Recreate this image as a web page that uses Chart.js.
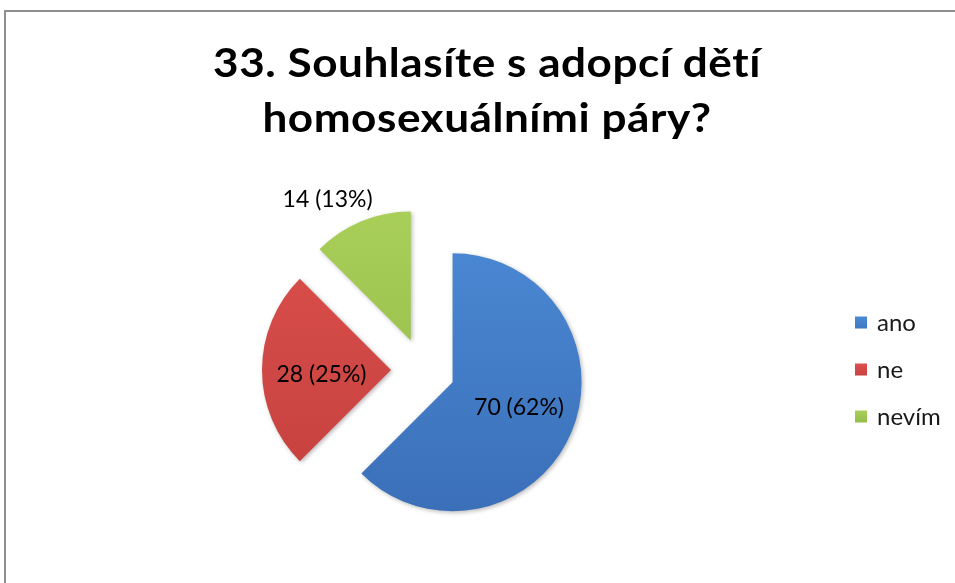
<!DOCTYPE html>
<html>
<head>
<meta charset="utf-8">
<script src="https://cdn.jsdelivr.net/npm/chart.js@4"></script>
<style>
  html, body { margin: 0; padding: 0; background: #ffffff; overflow: hidden; }
  #c { display: block; }
</style>
</head>
<body>
<canvas id="c" width="955" height="583"></canvas>
<script>
// Survey question 33 – answer counts and their shares
const categories = ['ano', 'ne', 'nevím'];
const answerCounts = [70, 28, 14];
const answerShares = ['62%', '25%', '13%'];
const titleLines = ['33. Souhlasíte s adopcí dětí', 'homosexuálními páry?'];

// Slice fills (top → bottom shading) and legend swatches
const fillTop = ['#4C8AD6', '#DC504D', '#A9CF59'];
const fillBottom = ['#3A6EB7', '#C23F3C', '#8CB543'];
const swatchColors = ['#3F78C2', '#C9423F', '#95BD4C'];

const PIE_RADIUS = 129;
const EXPLODE = 32;
// where each value label sits: fraction of radius from the slice tip, and a small turn
const labelDistance = [0.55, 0.54, 1.27];
const labelTurnDeg = [-2, -4, -8];

const FONT = 'Lato, "Open Sans", sans-serif';

// push every slice out along its bisector
const explodePlugin = {
  id: 'explodeSlices',
  afterDatasetsUpdate(chart) {
    chart.getDatasetMeta(0).data.forEach(arc => {
      const mid = (arc.startAngle + arc.endAngle) / 2;
      arc.x += Math.cos(mid) * EXPLODE;
      arc.y += Math.sin(mid) * EXPLODE;
    });
  }
};

// soft drop shadow under the slices
const shadowPlugin = {
  id: 'sliceShadow',
  beforeDatasetsDraw(chart) {
    const ctx = chart.ctx;
    ctx.save();
    ctx.shadowColor = 'rgba(0,0,0,0.28)';
    ctx.shadowBlur = 4;
    ctx.shadowOffsetX = 1.5;
    ctx.shadowOffsetY = 1.5;
  },
  afterDatasetsDraw(chart) {
    chart.ctx.restore();
  }
};

// "count (share)" labels
const valueLabels = {
  id: 'valueLabels',
  afterDatasetsDraw(chart) {
    const ctx = chart.ctx;
    const values = chart.data.datasets[0].data;
    ctx.save();
    ctx.font = '23px ' + FONT;
    ctx.fillStyle = '#000000';
    ctx.textAlign = 'center';
    ctx.textBaseline = 'middle';
    chart.getDatasetMeta(0).data.forEach((arc, i) => {
      const ang = (arc.startAngle + arc.endAngle) / 2 + labelTurnDeg[i] * Math.PI / 180;
      const r = arc.outerRadius * labelDistance[i];
      ctx.fillText(values[i] + ' (' + answerShares[i] + ')',
        arc.x + Math.cos(ang) * r, arc.y + Math.sin(ang) * r);
    });
    ctx.restore();
  }
};

// frame, title and legend
const decorPlugin = {
  id: 'decor',
  beforeDraw(chart) {
    const ctx = chart.ctx;
    ctx.save();
    ctx.fillStyle = '#ffffff';
    ctx.fillRect(0, 0, chart.width, chart.height);
    ctx.strokeStyle = '#8f8f8f';
    ctx.lineWidth = 2;
    ctx.strokeRect(5, 11, chart.width + 40, chart.height + 40);
    ctx.restore();
  },
  afterDraw(chart) {
    const ctx = chart.ctx;
    ctx.save();
    ctx.fillStyle = '#000000';
    ctx.textAlign = 'center';
    ctx.textBaseline = 'alphabetic';
    ctx.font = 'bold 41px ' + FONT;
    if ('letterSpacing' in ctx) ctx.letterSpacing = '0.5px';
    // title set slightly wide, centred on the frame
    titleLines.forEach((line, i) => {
      ctx.save();
      ctx.translate(487, 77 + i * 55);
      ctx.scale(1.075, 1);
      ctx.fillText(line, 0, 0);
      ctx.restore();
    });
    if ('letterSpacing' in ctx) ctx.letterSpacing = '0px';

    const labels = chart.data.labels;
    ctx.font = '24px ' + FONT;
    ctx.textAlign = 'left';
    ctx.textBaseline = 'middle';
    labels.forEach((lab, i) => {
      const cy = 322.5 + i * 47;
      const g = ctx.createLinearGradient(0, cy - 6, 0, cy + 6);
      g.addColorStop(0, fillTop[i]);
      g.addColorStop(1, swatchColors[i]);
      ctx.fillStyle = g;
      ctx.fillRect(855, cy - 6, 12, 12);
      ctx.fillStyle = '#1a1a1a';
      ctx.fillText(lab, 877, cy + 1);
    });
    ctx.restore();
  }
};

function sliceFill(context) {
  const i = context.dataIndex;
  const chart = context.chart;
  const area = chart.chartArea;
  if (!area) return fillTop[i];
  const cy = (area.top + area.bottom) / 2;
  const g = chart.ctx.createLinearGradient(0, cy - PIE_RADIUS - EXPLODE, 0, cy + PIE_RADIUS + EXPLODE);
  g.addColorStop(0, fillTop[i]);
  g.addColorStop(1, fillBottom[i]);
  return g;
}

new Chart(document.getElementById('c'), {
  type: 'pie',
  data: {
    labels: categories,
    datasets: [{
      data: answerCounts,
      backgroundColor: sliceFill,
      borderWidth: 0
    }]
  },
  options: {
    responsive: false,
    animation: false,
    events: [],
    radius: PIE_RADIUS,
    layout: { padding: { left: 0, right: 109, top: 160, bottom: 3 } },
    plugins: {
      legend: { display: false },
      title: { display: false },
      tooltip: { enabled: false }
    }
  },
  plugins: [explodePlugin, shadowPlugin, valueLabels, decorPlugin]
});
</script>
</body>
</html>
